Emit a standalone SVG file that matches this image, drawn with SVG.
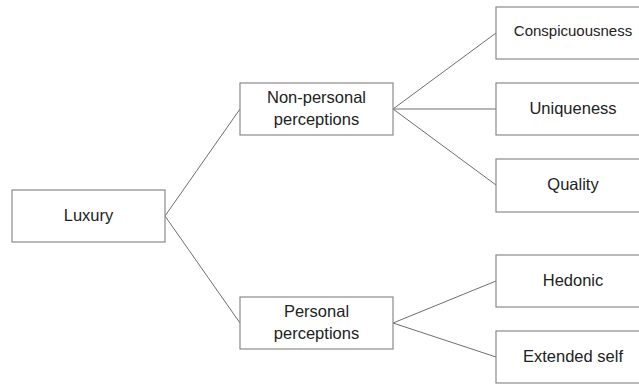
<svg xmlns="http://www.w3.org/2000/svg" width="639" height="384" viewBox="0 0 639 384">
<style>
.box{fill:#fff;stroke:#8a8a8a;stroke-width:1.2}
.lbl{font-family:"Liberation Sans",Arial,sans-serif;font-size:16.5px;fill:#222;text-anchor:middle;dominant-baseline:central}
.edge{stroke:#6e6e6e;stroke-width:1;fill:none}
</style>
<rect width="639" height="384" fill="#fff"/>
<g id="connectors">
<line class="edge" x1="165" y1="216" x2="240" y2="109"/>
<line class="edge" x1="165" y1="216" x2="240" y2="323"/>
<line class="edge" x1="393" y1="109" x2="496" y2="33"/>
<line class="edge" x1="393" y1="109" x2="496" y2="109"/>
<line class="edge" x1="393" y1="109" x2="496" y2="185"/>
<line class="edge" x1="393" y1="323" x2="496" y2="281"/>
<line class="edge" x1="393" y1="323" x2="496" y2="357"/>
</g>
<g id="luxury"><rect class="box" x="12" y="190" width="153" height="52"/><text class="lbl" x="88.5" y="215">Luxury</text></g>
<g id="non-personal"><rect class="box" x="240" y="83" width="153" height="52"/><text class="lbl" x="316.5" y="97">Non-personal</text><text class="lbl" x="316.5" y="119">perceptions</text></g>
<g id="personal"><rect class="box" x="240" y="297" width="153" height="52"/><text class="lbl" x="316.5" y="311">Personal</text><text class="lbl" x="316.5" y="333">perceptions</text></g>
<g id="conspicuousness"><rect class="box" x="496" y="7" width="153" height="52"/><text class="lbl" x="573" y="30" style="font-size:15px">Conspicuousness</text></g>
<g id="uniqueness"><rect class="box" x="496" y="83" width="153" height="52"/><text class="lbl" x="573" y="108">Uniqueness</text></g>
<g id="quality"><rect class="box" x="496" y="159" width="153" height="53"/><text class="lbl" x="573" y="184">Quality</text></g>
<g id="hedonic"><rect class="box" x="496" y="255" width="153" height="52"/><text class="lbl" x="573" y="280">Hedonic</text></g>
<g id="extended-self"><rect class="box" x="496" y="331" width="153" height="52"/><text class="lbl" x="573" y="356">Extended self</text></g>
</svg>
